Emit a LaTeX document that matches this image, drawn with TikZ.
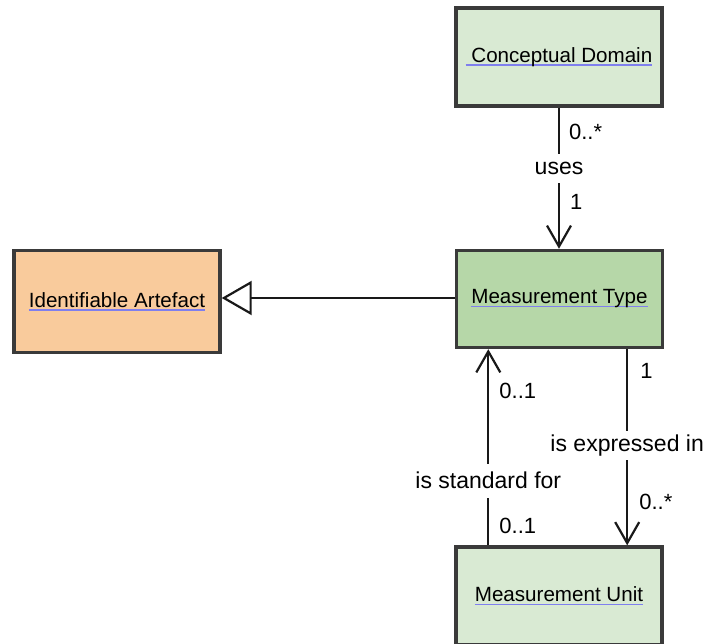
\documentclass[tikz,border=0pt]{standalone}
\usepackage{fontspec}
\setmainfont{Liberation Sans}
\usetikzlibrary{arrows.meta,calc}
\definecolor{bordc}{HTML}{3A3A3A}
\definecolor{lightg}{HTML}{D9EAD3}
\definecolor{midg}{HTML}{B6D7A8}
\definecolor{orng}{HTML}{F9CB9C}
\definecolor{ulc}{HTML}{7F7FEE}
\newcommand\ulx[1]{\setbox0\hbox{#1}\rlap{\color{ulc}\rule[-3.4pt]{\wd0}{1.6pt}}\box0}
\begin{document}
\begin{tikzpicture}[x=1pt,y=-1pt,
  cls/.style={draw=bordc, line width=3.4pt, minimum width=206pt, minimum height=98pt, inner sep=0pt, font=\fontsize{20.6}{23}\selectfont},
  conn/.style={draw=black!90, line width=2.2pt},
  assoc/.style={conn, -{Straight Barb[length=21pt,width=24pt,line width=2.2pt]}},
  gen/.style={conn, -{Triangle[open,length=30pt,width=34pt,line width=2.2pt]}},
  lbl/.style={fill=white, inner xsep=1pt, inner ysep=0pt, minimum height=29pt, font=\fontsize{23}{26}\selectfont},
  mult/.style={inner sep=0pt, anchor=west, font=\fontsize{22}{25}\selectfont}]
\useasboundingbox (0,0) rectangle (705,644);
\node[cls, fill=lightg] (cd) at (559,57) {\ulx{\ Conceptual Domain}};
\node[cls, fill=midg, minimum height=97pt] (mt) at (559.5,299) {\ulx{Measurement Type}};
\node[cls, fill=orng, minimum height=102pt] (ia) at (117,301.5) {\ulx{Identifiable Artefact}};
\node[cls, fill=lightg] (mu) at (559,596) {\ulx{Measurement Unit}};
% uses
\draw[assoc] (cd.south) -- (cd.south |- mt.north)
  node[mult, pos=0.17, xshift=9pt] {0..*}
  node[lbl, pos=0.43] {uses}
  node[mult, pos=0.67, xshift=10pt] {1};
% generalization
\draw[gen] (mt.west) ++(0,-1) -- (ia.east |- 0,298) coordinate (iaend);
% is standard for
\coordinate (sfA) at ($(mu.north west)+(34,0)$);
\coordinate (sfB) at (sfA |- mt.south);
\draw[assoc] (sfA) -- (sfB)
  node[mult, pos=0.10, xshift=10pt] {0..1}
  node[lbl, pos=0.33, minimum height=34pt] {is standard for}
  node[mult, pos=0.785, xshift=10pt] {0..1};
% is expressed in
\coordinate (exA) at ($(mt.south east)+(-37,0)$);
\coordinate (exB) at (exA |- mu.north);
\draw[assoc] (exA) -- (exB)
  node[mult, pos=0.11, xshift=12pt] {1}
  node[lbl, pos=0.49] {is expressed in}
  node[mult, pos=0.777, xshift=11pt] {0..*};
\end{tikzpicture}
\end{document}
